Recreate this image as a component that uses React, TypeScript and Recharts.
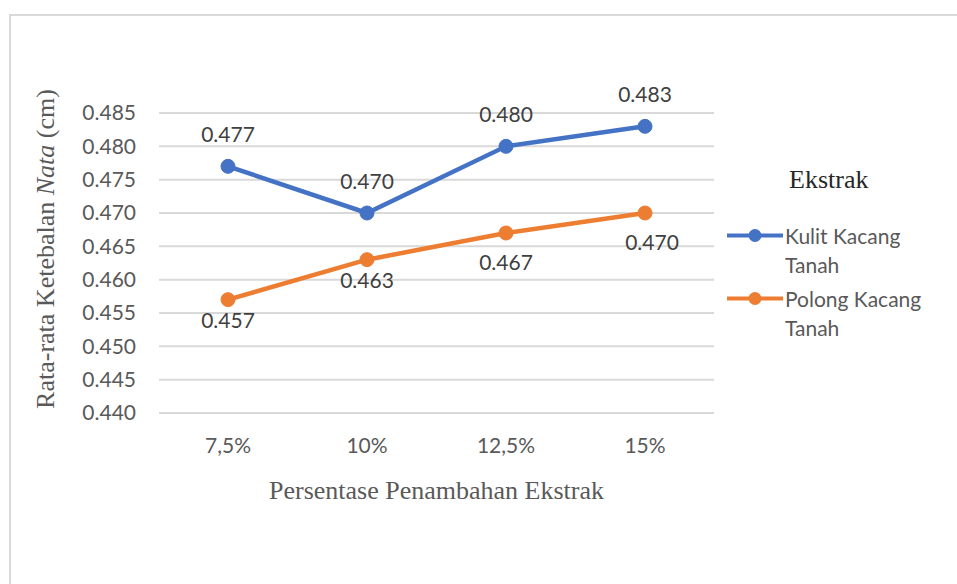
import React from "react";
import {
  LineChart,
  Line,
  XAxis,
  YAxis,
  CartesianGrid,
  Legend,
  LabelList,
} from "recharts";

const categories = ["7,5%", "10%", "12,5%", "15%"];
const kulitValues = [0.477, 0.47, 0.48, 0.483];
const polongValues = [0.457, 0.463, 0.467, 0.47];
const yTicks = [0.44, 0.445, 0.45, 0.455, 0.46, 0.465, 0.47, 0.475, 0.48, 0.485];

// the last two orange labels were nudged lower/right to clear the gridlines
const polongLabelGap = [13, 13, 22, 22];
const polongLabelShift = [0, 0, 0, 7];

const BLUE = "#4472C4";
const ORANGE = "#ED7D31";
const SANS = "Lato, 'Open Sans', sans-serif";
const SERIF = "'Liberation Serif', 'Times New Roman', serif";

const data = categories.map((c, i) => ({
  name: c,
  kulit: kulitValues[i],
  polong: polongValues[i],
}));

const fmt = (v: any) => Number(v).toFixed(3);

// rotated y title with the italic word
const YTitle = () => (
  <text
    x={45}
    y={249}
    transform="rotate(-90 45 249)"
    textAnchor="middle"
    dominantBaseline="central"
    fill="#595959"
    fontFamily={SERIF}
    fontSize={26}
  >
    <tspan>Rata-rata Ketebalan </tspan>
    <tspan fontStyle="italic">Nata</tspan>
    <tspan> (cm)</tspan>
  </text>
);

const PolongLabel = (props: any) => {
  const { x, y, value, index } = props;
  return (
    <text
      x={x + polongLabelShift[index]}
      y={y + polongLabelGap[index]}
      dy="0.71em"
      textAnchor="middle"
      fill="#404040"
      fontSize={21}
      fontFamily={SANS}
    >
      {fmt(value)}
    </text>
  );
};

const LegendBox = (props: any) => {
  const items = props.payload || [];
  return (
    <div style={{ fontFamily: SANS }}>
      <div
        style={{
          fontFamily: SERIF,
          fontSize: 26,
          color: "#262626",
          marginLeft: 64,
          lineHeight: "30px",
          marginBottom: 26,
        }}
      >
        Ekstrak
      </div>
      {items.map((it: any) => (
        <div
          key={it.value}
          style={{ display: "flex", alignItems: "flex-start", marginBottom: 5 }}
        >
          <svg width={60} height={29} style={{ flex: "none" }}>
            <line x1={2} y1={14.5} x2={58} y2={14.5} stroke={it.color} strokeWidth={4} />
            <circle cx={30} cy={14.5} r={6.5} fill={it.color} />
          </svg>
          <div
            style={{
              width: 150,
              fontSize: 21,
              lineHeight: "29px",
              color: "#595959",
            }}
          >
            {it.value}
          </div>
        </div>
      ))}
    </div>
  );
};

export default function App() {
  return (
    <div
      style={{
        position: "absolute",
        left: 0,
        top: 0,
        width: 957,
        height: 584,
        overflow: "hidden",
        background: "#fff",
      }}
    >
      <div
        style={{
          position: "absolute",
          left: 9,
          top: 14,
          width: 980,
          height: 620,
          border: "2px solid #d9d9d9",
        }}
      />
      <div style={{ position: "absolute", left: 0, top: 0 }}>
        <LineChart
          width={957}
          height={584}
          data={data}
          margin={{ top: 113, right: 243, bottom: 141, left: 99 }}
        >
          <CartesianGrid vertical={false} stroke="#d9d9d9" strokeWidth={2} />
          <XAxis
            dataKey="name"
            padding={{ left: 69, right: 69 }}
            axisLine={false}
            tickLine={false}
            tickSize={0}
            tickMargin={25}
            height={30}
            tick={{ fill: "#595959", fontSize: 21, fontFamily: SANS }}
            label={{
              value: "Persentase Penambahan Ekstrak",
              position: "bottom",
              offset: 38,
              fill: "#595959",
              fontSize: 26,
              fontFamily: SERIF,
            }}
          />
          <YAxis
            width={60}
            domain={[0.44, 0.485]}
            ticks={yTicks}
            tickFormatter={fmt}
            axisLine={false}
            tickLine={false}
            tickSize={0}
            tickMargin={23}
            tick={{ fill: "#595959", fontSize: 21, fontFamily: SANS }}
            label={<YTitle />}
          />
          <Legend
            layout="horizontal"
            verticalAlign="middle"
            align="center"
            wrapperStyle={{ left: 725, top: 165, width: 220 }}
            content={<LegendBox />}
          />
          <Line
            name="Kulit Kacang Tanah"
            dataKey="kulit"
            stroke={BLUE}
            strokeWidth={4.5}
            dot={{ r: 7, fill: BLUE, stroke: BLUE, strokeWidth: 1 }}
            activeDot={false}
            isAnimationActive={false}
          >
            <LabelList
              dataKey="kulit"
              position="top"
              offset={24}
              formatter={fmt}
              fill="#404040"
              fontSize={21}
              fontFamily={SANS}
            />
          </Line>
          <Line
            name="Polong Kacang Tanah"
            dataKey="polong"
            stroke={ORANGE}
            strokeWidth={4.5}
            dot={{ r: 7, fill: ORANGE, stroke: ORANGE, strokeWidth: 1 }}
            activeDot={false}
            isAnimationActive={false}
          >
            <LabelList dataKey="polong" content={<PolongLabel />} />
          </Line>
        </LineChart>
      </div>
    </div>
  );
}
